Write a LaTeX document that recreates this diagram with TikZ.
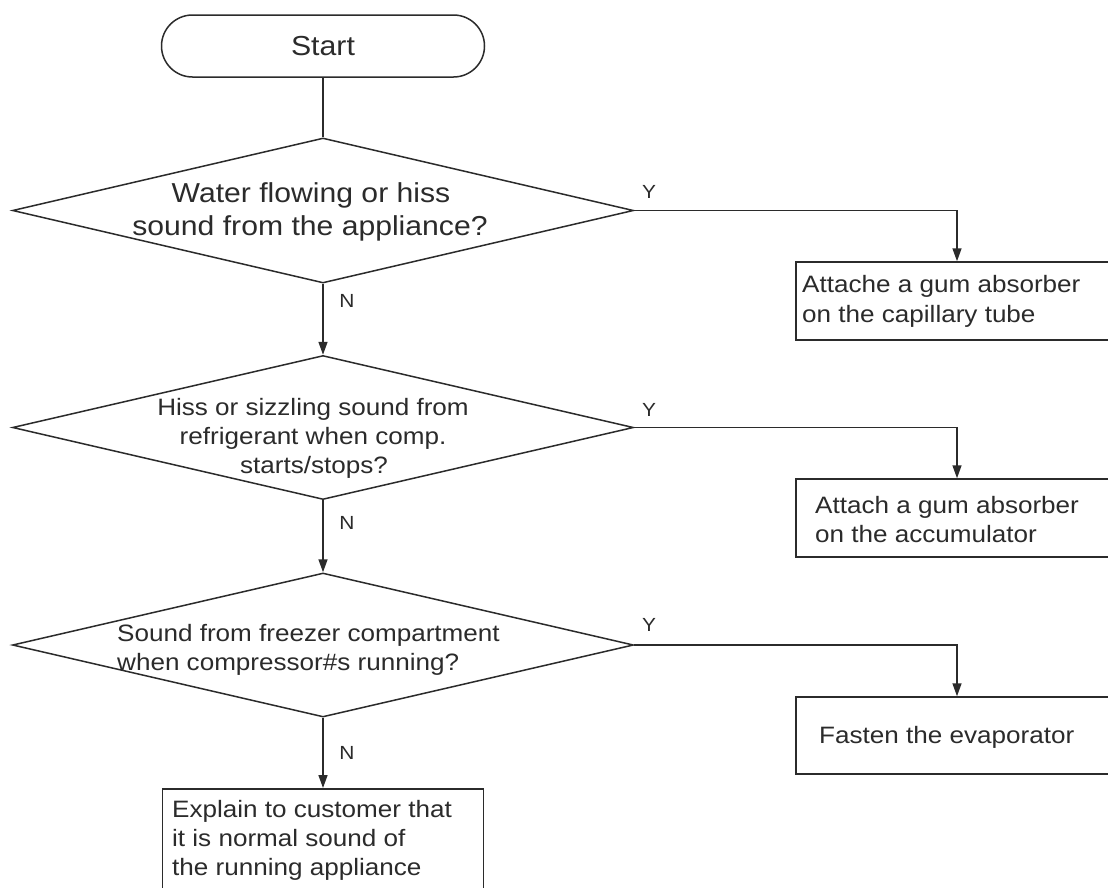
\documentclass[tikz,border=0pt]{standalone}
\usepackage{fontspec}
\setmainfont{Liberation Sans}[FakeStretch=1.1]
\usetikzlibrary{shapes.geometric,arrows.meta}
\definecolor{ink}{HTML}{2B2B2B}
\begin{document}
\begin{tikzpicture}[x=1pt,y=-1pt,
  line/.style={draw=ink, line width=1.5pt},
  arr/.style={line, -{Triangle[length=13pt,width=9pt]}},
  shp/.style={draw=ink, line width=1.5pt, inner sep=0pt},
  dia/.style={shp, diamond, minimum width=621pt, minimum height=145pt},
  box/.style={shp, rectangle, minimum width=322pt, minimum height=78pt},
  txt/.style={inner sep=0pt, text=ink, font=\fontsize{23.7}{28}\selectfont},
  dtxt/.style={inner sep=0pt, text=ink, font=\fontsize{27.4}{30}\selectfont},
  lbl/.style={inner sep=0pt, text=ink, font=\fontsize{19}{22}\selectfont}]
\useasboundingbox[fill=white] (0,0) rectangle (1108,887);
% shapes
\node[shp, rounded corners=31pt, minimum width=323pt, minimum height=62pt,
      text=ink, font=\fontsize{27.5}{30}\selectfont] (start) at (323,46) {Start};
\node[dia] (d1) at (323,210.5) {};
\node[dia, minimum height=144pt] (d2) at (323,427.5) {};
\node[dia, minimum height=144pt] (d3) at (323,645) {};
\node[box] (b1) at (957,301) {};
\node[box] (b2) at (957,518) {};
\node[box, minimum height=77pt] (b3) at (957,735.5) {};
\node[box, minimum width=321pt, minimum height=120pt, anchor=north] (b4) at (323,788) {};
% texts
\node[dtxt, anchor=base] (d1a) at (311,202) {Water flowing or hiss};
\node[dtxt, anchor=base] (d1b) at (310,235) {sound from the appliance?};
\node[txt, anchor=base] (d2a) at (313,415) {Hiss or sizzling sound from};
\node[txt, anchor=base] (d2b) at (313,444) {refrigerant when comp.};
\node[txt, anchor=base] (d2c) at (314,473) {starts/stops?};
\node[txt, anchor=base west] (d3a) at (117,641) {Sound from freezer compartment};
\node[txt, anchor=base west] (d3b) at (117,670) {when compressor\#s running?};
\node[txt, anchor=base west] (b1a) at (802,292) {Attache a gum absorber};
\node[txt, anchor=base west] (b1b) at (802,322) {on the capillary tube};
\node[txt, anchor=base west] (b2a) at (815,513) {Attach a gum absorber};
\node[txt, anchor=base west] (b2b) at (815,542) {on the accumulator};
\node[txt, anchor=base west] (b3a) at (819,743) {Fasten the evaporator};
\node[txt, anchor=base west] (b4a) at (172,817) {Explain to customer that};
\node[txt, anchor=base west] (b4b) at (172,846) {it is normal sound of};
\node[txt, anchor=base west] (b4c) at (172,875) {the running appliance};
% labels
\node[lbl, anchor=base] (y1) at (649,198) {Y};
\node[lbl, anchor=base] (y2) at (649,416) {Y};
\node[lbl, anchor=base] (y3) at (649,631) {Y};
\node[lbl, anchor=base] (n1) at (347,307) {N};
\node[lbl, anchor=base] (n2) at (347,529) {N};
\node[lbl, anchor=base] (n3) at (347,759) {N};
% connectors
\draw[line] (start.south) -- (d1.north);
\draw[arr] (d1.south) -- (d2.north);
\draw[arr] (d2.south) -- (d3.north);
\draw[arr] (d3.south) -- (b4.north);
\draw[arr] (d1.east) -| (b1.north);
\draw[arr] (d2.east) -| (b2.north);
\draw[arr] (d3.east) -| (b3.north);
\end{tikzpicture}
\end{document}
